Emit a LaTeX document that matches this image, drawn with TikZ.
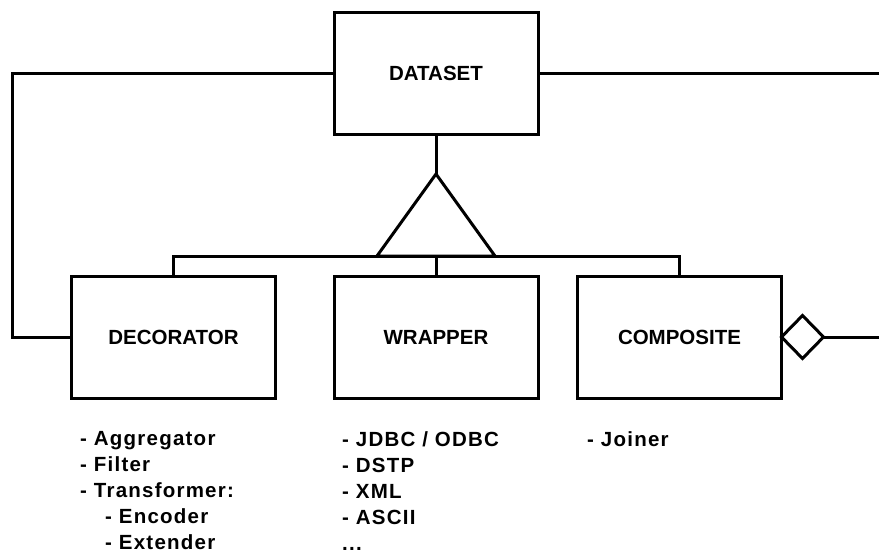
\documentclass[tikz,border=0pt]{standalone}
\usepackage{fontspec}
\setmainfont{Liberation Sans}
\newfontfamily\listfont[LetterSpace=6]{Liberation Sans}
\usetikzlibrary{calc}
\usetikzlibrary{positioning}
\usetikzlibrary{shapes.geometric}

\tikzset{
  classbox/.style={draw,line width=3pt,minimum width=204pt,minimum height=122pt,
    inner sep=0pt,outer sep=0pt,font=\bfseries\fontsize{20.5}{24}\selectfont},
  listtxt/.style={align=left,inner sep=0pt,anchor=north west,
    font=\listfont\bfseries\fontsize{20.5}{26}\selectfont},
  link/.style={line width=3pt}
}

\begin{document}
\begin{tikzpicture}[x=1pt,y=-1pt]
		\useasboundingbox (0,0) rectangle (879,552);
		\node[classbox] (dataset) at (436,73) {DATASET};
		\node[classbox] (decorator) at (173.5,337) {DECORATOR};
		\node[classbox] (wrapper) at (436,337) {WRAPPER};
		\node[classbox] (composite) at (679.5,337) {COMPOSITE};
%		
		\coordinate (apex) at (436,174);
		\coordinate (baseL) at (377,256);
		\coordinate (baseR) at (495,256);
		\draw[link] (dataset.south) -- (apex);
		\draw[link] (apex) -- (baseL) -- (baseR) -- cycle;
		\draw[link] (decorator.north) -- ++(0,-20) -| (composite.north);
		\draw[link] (wrapper.north) -- (wrapper.north |- baseL);
%		
		\coordinate (leftend) at (12,73);
		\coordinate (rightend) at (879,73);
		\draw[link] (dataset.west) -- (leftend) |- (decorator.west);
		\draw[link] (dataset.east) -- (rightend);
		\node[diamond,draw,line width=3pt,fill=white,inner sep=0pt,outer sep=0pt,
		  minimum width=42pt,minimum height=43pt,anchor=west] (agg) at (composite.east) {};
		\coordinate (rightend2) at (879,337);
		\draw[link] (agg.east) -- (rightend2);
%		
		\node[listtxt] (declist) at (80,431) {- Aggregator\\- Filter\\- Transformer:\\
		  \hspace*{25pt}- Encoder\\\hspace*{25pt}- Extender};
		\node[listtxt] (wraplist) at (342,431) {- JDBC / ODBC\\- DSTP\\- XML\\- ASCII\\...};
		\node[listtxt] (complist) at (587,431) {- Joiner};
\end{tikzpicture}
\end{document}
